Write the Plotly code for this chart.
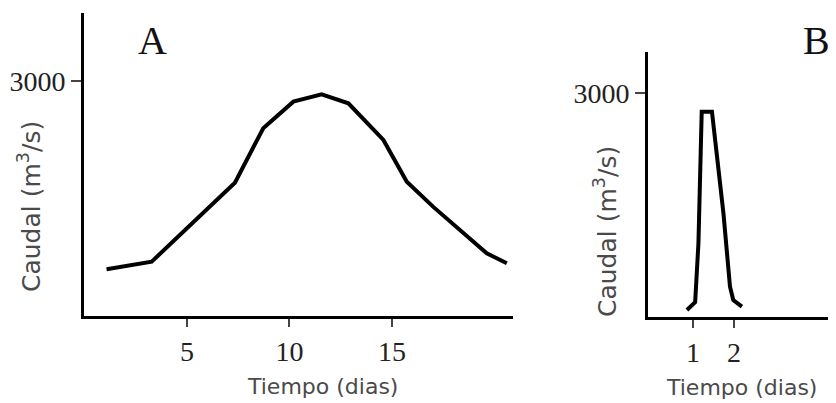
import plotly.graph_objects as go

# Panel A: slow hydrograph
dias_a = [1.08, 3.28, 7.34, 8.72, 10.19, 11.57, 12.87, 14.58, 15.72, 17.0, 19.62, 20.6]
caudal_a = [596, 693, 1702, 2396, 2736, 2830, 2715, 2247, 1715, 1396, 800, 673]

# Panel B: flash hydrograph
dias_b = [0.85, 1.05, 1.13, 1.21, 1.46, 1.74, 1.90, 1.98, 2.19]
caudal_b = [94, 200, 987, 2750, 2750, 1389, 406, 228, 138]

ticks_a = [5, 10, 15]
ticks_b = [1, 2]
ytick = [3000]

W, H = 836, 403
serif = "Liberation Serif, Times New Roman, serif"
sans = "DejaVu Sans, Verdana, sans-serif"

fig = go.Figure()
fig.add_trace(go.Scatter(x=dias_a, y=caudal_a, mode="lines",
                         line=dict(color="black", width=4), xaxis="x", yaxis="y",
                         showlegend=False, hoverinfo="skip"))
fig.add_trace(go.Scatter(x=dias_b, y=caudal_b, mode="lines",
                         line=dict(color="black", width=4), xaxis="x2", yaxis="y2",
                         showlegend=False, hoverinfo="skip"))

ax_common = dict(showgrid=False, zeroline=False, showline=True, linecolor="black",
                 linewidth=3, ticks="outside", tickwidth=2, tickcolor="#444",
                 tickfont=dict(family=serif, size=28, color="#222"), fixedrange=True)

fig.update_layout(
    width=W, height=H,
    margin=dict(l=0, r=0, t=0, b=0),
    paper_bgcolor="white", plot_bgcolor="white",
    xaxis=dict(domain=[84 / W, 513 / W], range=[-0.02, 20.9], anchor="y", ticklen=8,
               tickvals=ticks_a, ticktext=[str(t) for t in ticks_a], **ax_common),
    yaxis=dict(domain=[(H - 316) / H, (H - 13) / H], range=[0, 3868], anchor="x", ticklen=10,
               tickvals=ytick, ticktext=[str(t) for t in ytick], **ax_common),
    xaxis2=dict(domain=[648 / W, 828 / W], range=[-0.10, 4.29], anchor="y2", ticklen=8,
                tickvals=ticks_b, ticktext=[str(t) for t in ticks_b], **ax_common),
    yaxis2=dict(domain=[(H - 317) / H, (H - 52) / H], range=[0, 3549], anchor="x2", ticklen=10,
                tickvals=ytick, ticktext=[str(t) for t in ytick], **ax_common),
)

ann = []
ann.append(dict(text="A", x=152 / W, y=(H - 40) / H, xref="paper", yref="paper",
                showarrow=False, font=dict(family=serif, size=40, color="#111"),
                xanchor="center", yanchor="middle"))
ann.append(dict(text="B", x=816 / W, y=(H - 40) / H, xref="paper", yref="paper",
                showarrow=False, font=dict(family=serif, size=40, color="#111"),
                xanchor="center", yanchor="middle"))
for cx, cy in [(322, 386), (741, 387)]:
    ann.append(dict(text="Tiempo (dias)", x=cx / W, y=(H - cy) / H, xref="paper", yref="paper",
                    showarrow=False, font=dict(family=sans, size=22, color="#4a4a4a"),
                    xanchor="center", yanchor="middle"))
for cx, cy in [(29, 207), (605, 232)]:
    ann.append(dict(text="Caudal (m<sup>3</sup>/s)", x=cx / W, y=(H - cy) / H, xref="paper",
                    yref="paper", textangle=-90, showarrow=False,
                    font=dict(family=sans, size=25, color="#4a4a4a"),
                    xanchor="center", yanchor="middle"))
fig.update_layout(annotations=ann)

fig.write_html("out.html", config={"displayModeBar": False, "staticPlot": True},
               post_script="document.body.style.margin='0px';document.body.style.overflow='hidden';")
